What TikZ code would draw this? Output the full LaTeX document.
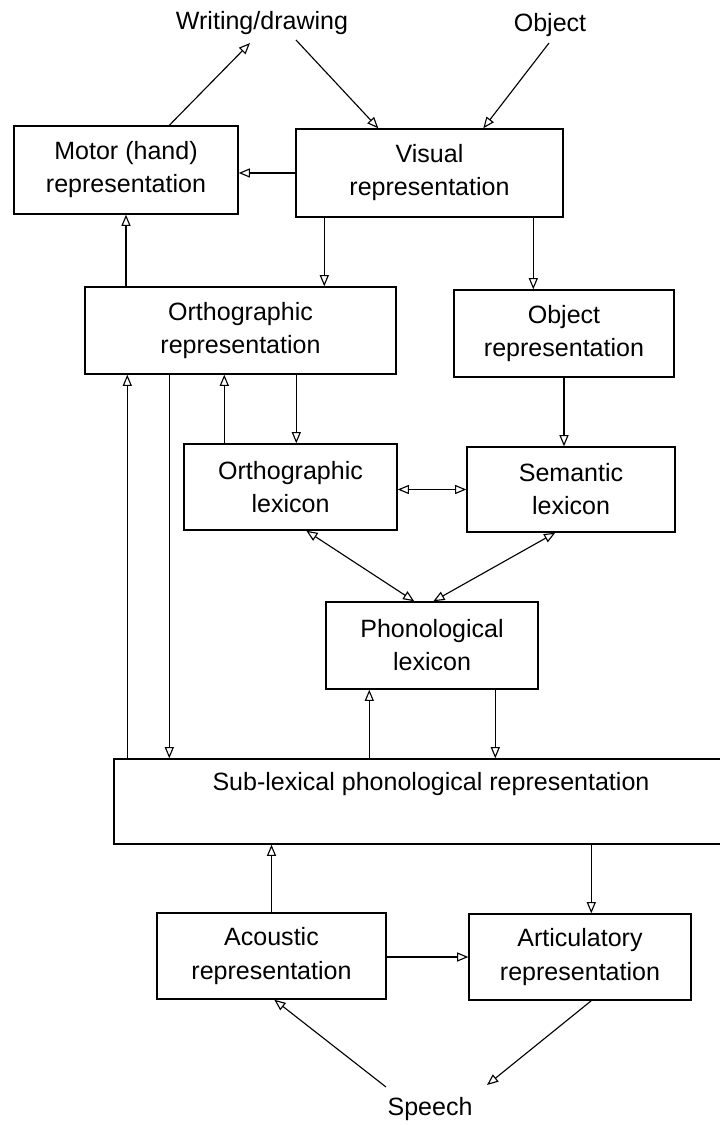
\documentclass[tikz,border=0pt]{standalone}
\usepackage{fontspec}
\setmainfont{Liberation Sans}
\usetikzlibrary{arrows.meta,calc}
\newcommand\lblfont{\fontsize{17.8}{23.5}\selectfont}
\begin{document}
\begin{tikzpicture}[x=0.025cm,y=-0.025cm,
  bx/.style 2 args={draw, line width=1pt, minimum width=#1*0.025cm, minimum height=#2*0.025cm, align=center, inner sep=0pt, font=\lblfont},
  lbl/.style={font=\lblfont, inner sep=1pt},
  arr/.style={-{Triangle[open,length=8pt,width=6.5pt]}, line width=0.8pt},
  darr/.style={{Triangle[open,length=8pt,width=6.5pt]}-{Triangle[open,length=8pt,width=6.5pt]}, line width=0.8pt}]
\useasboundingbox (0,0) rectangle (720,1125);

% boxes
\node[bx={224}{88}] (motor) at (126,170) {Motor (hand)\\representation};
\node[bx={267}{88}] (visual) at (429.5,173) {Visual\\representation};
\node[bx={311}{87}] (orthrep) at (240.5,330.5) {Orthographic\\representation};
\node[bx={220}{87}] (objrep) at (564,333.5) {Object\\representation};
\node[bx={213}{86}] (orthlex) at (290.5,487) {Orthographic\\lexicon};
\node[bx={208}{85}] (semlex) at (571,489.5) {Semantic\\lexicon};
\node[bx={212}{87}] (phon) at (432,645.5) {Phonological\\lexicon};
\node[bx={634}{85}] (sub) at (431,801.5) {};
\node[lbl] (subtxt) at (431,784) {Sub-lexical phonological representation};
\node[bx={229}{86}] (acoustic) at (271.5,956) {Acoustic\\representation};
\node[bx={222}{86}] (artic) at (580,957) {Articulatory\\representation};

% free labels
\node[lbl] (writing) at (262,23) {Writing/drawing};
\node[lbl] (object) at (550,25) {Object};
\node[lbl] (speech) at (430,1109) {Speech};

% top connectors
\draw[arr] ($(motor.north west)+(156,0)$) -- ($(writing.center)+(-12,20)$);
\draw[arr] ($(writing.center)+(34,17)$) -- ($(visual.north west)+(83,0)$);
\draw[arr] ($(object.center)+(-1,18)$) -- ($(visual.north west)+(188,0)$);
\draw[arr] (visual.west) -- (visual.west -| motor.east);

\coordinate (a1) at ($(visual.south west)+(29,0)$);
\draw[arr] (a1) -- (a1 |- orthrep.north);
\coordinate (a2) at ($(visual.south west)+(238,0)$);
\draw[arr] (a2) -- (a2 |- objrep.north);
\draw[arr] (orthrep.north -| motor.south) -- (motor.south);

% middle
\coordinate (a3) at ($(sub.north west)+(14,0)$);
\draw[arr] (a3) -- (a3 |- orthrep.south);
\coordinate (a4) at ($(sub.north west)+(56,0)$);
\draw[arr] (a4 |- orthrep.south) -- (a4);
\coordinate (a5) at ($(orthlex.north west)+(41,0)$);
\draw[arr] (a5) -- (a5 |- orthrep.south);
\coordinate (a6) at ($(orthlex.north west)+(113,0)$);
\draw[arr] (a6 |- orthrep.south) -- (a6);
\draw[arr] (objrep.south) -- (objrep.south |- semlex.north);
\draw[darr] (semlex.west -| orthlex.east) -- (semlex.west);

\draw[darr] ($(orthlex.south west)+(123,0)$) -- ($(phon.north west)+(89,0)$);
\draw[darr] ($(semlex.south west)+(89,0)$) -- ($(phon.north west)+(108,0)$);

\coordinate (a7) at ($(phon.south west)+(44,0)$);
\draw[arr] (a7 |- sub.north) -- (a7);
\coordinate (a8) at ($(phon.south west)+(170,0)$);
\draw[arr] (a8) -- (a8 |- sub.north);

% bottom
\draw[arr] (acoustic.north) -- (acoustic.north |- sub.south);
\coordinate (a9) at ($(artic.north west)+(123,0)$);
\draw[arr] (a9 |- sub.south) -- (a9);
\draw[arr] (artic.west -| acoustic.east) -- (artic.west);
\draw[arr] ($(speech.center)+(-44,-22)$) -- ($(acoustic.south west)+(118,0)$);
\draw[arr] ($(artic.south west)+(123,0)$) -- ($(speech.center)+(57,-24)$);
\end{tikzpicture}
\end{document}
